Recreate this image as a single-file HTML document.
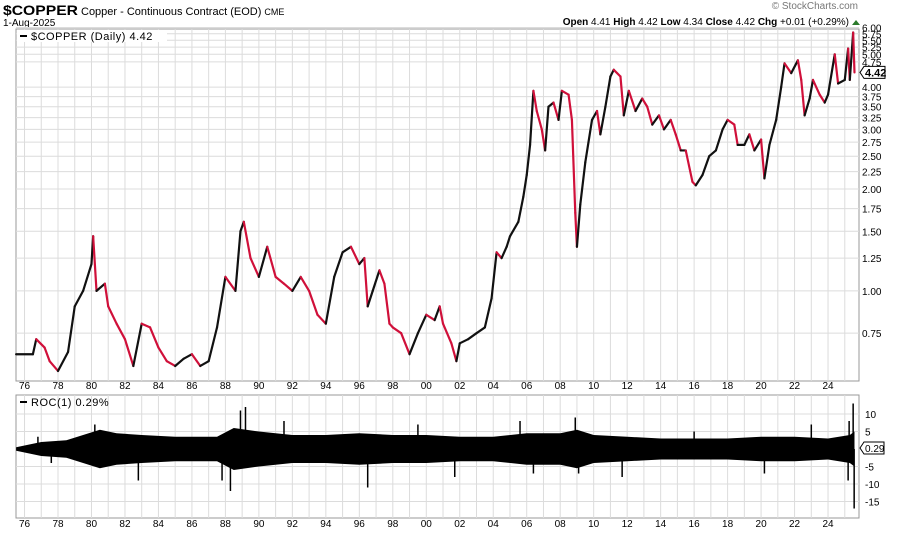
<!DOCTYPE html>
<html><head><meta charset="utf-8"><style>
body{margin:0;background:#fff;}
svg{display:block;font-family:"Liberation Sans",sans-serif;}
</style></head><body>
<svg id="c" width="900" height="534" viewBox="0 0 900 534">
<text x="3" y="15" font-size="14" font-weight="bold" textLength="75" lengthAdjust="spacingAndGlyphs">$COPPER</text>
<text x="81" y="15" font-size="11">Copper - Continuous Contract (EOD) <tspan font-size="9">CME</tspan></text>
<text x="3" y="26" font-size="10">1-Aug-2025</text>
<text x="858" y="9" font-size="10" fill="#777" text-anchor="end">© StockCharts.com</text>
<text x="849" y="25" font-size="10" text-anchor="end"><tspan font-weight="bold">Open</tspan> 4.41 <tspan font-weight="bold">High</tspan> 4.42 <tspan font-weight="bold">Low</tspan> 4.34 <tspan font-weight="bold">Close</tspan> 4.42 <tspan font-weight="bold">Chg</tspan> +0.01 (+0.29%)</text>
<path d="M852 25 L856 20 L860 25 Z" fill="#2a7a2a"/>
<g id="grid"></g>
<g id="price"></g>
<g id="roc"></g>
<g id="axes"></g>
</svg>
<script>
const years=[1975.5,1976.5,1976.7,1977.2,1977.5,1978,1978.6,1979,1979.5,1980.0,1980.1,1980.3,1980.8,1981,1981.5,1982,1982.5,1983,1983.5,1984,1984.5,1985,1985.5,1986,1986.5,1987,1987.5,1988,1988.6,1988.9,1989.1,1989.5,1990,1990.5,1991,1991.5,1992,1992.5,1993,1993.5,1994,1994.5,1995,1995.5,1996,1996.3,1996.5,1996.8,1997.2,1997.5,1997.8,1998,1998.5,1999,1999.5,2000,2000.5,2000.8,2001,2001.5,2001.8,2002,2002.5,2003,2003.5,2003.9,2004.2,2004.5,2004.8,2005,2005.5,2005.8,2006,2006.2,2006.4,2006.6,2006.9,2007.1,2007.3,2007.6,2007.9,2008.1,2008.5,2008.7,2008.9,2009.0,2009.2,2009.5,2009.9,2010.2,2010.4,2010.7,2011.0,2011.2,2011.6,2011.8,2012.1,2012.5,2012.9,2013.2,2013.5,2013.9,2014.2,2014.6,2014.9,2015.2,2015.5,2015.9,2016.1,2016.5,2016.9,2017.3,2017.7,2018.0,2018.4,2018.6,2019.0,2019.3,2019.6,2020.0,2020.2,2020.5,2020.9,2021.2,2021.4,2021.8,2022.2,2022.4,2022.6,2022.9,2023.1,2023.5,2023.8,2024.0,2024.4,2024.6,2025.0,2025.2,2025.3,2025.5,2025.58];
const prices=[0.65,0.65,0.72,0.68,0.62,0.58,0.66,0.9,1.0,1.2,1.45,1.0,1.05,0.9,0.8,0.72,0.6,0.8,0.78,0.68,0.62,0.6,0.63,0.65,0.6,0.62,0.78,1.1,1.0,1.5,1.6,1.25,1.1,1.35,1.1,1.05,1.0,1.1,1.0,0.85,0.8,1.1,1.3,1.35,1.2,1.25,0.9,1.0,1.15,1.05,0.8,0.78,0.75,0.65,0.75,0.85,0.82,0.9,0.8,0.7,0.62,0.7,0.72,0.75,0.78,0.95,1.3,1.25,1.35,1.45,1.6,1.9,2.2,2.7,3.9,3.4,3.0,2.6,3.5,3.6,3.2,3.9,3.8,3.2,1.7,1.35,1.8,2.4,3.2,3.4,2.9,3.5,4.3,4.5,4.3,3.3,3.9,3.4,3.7,3.5,3.1,3.3,3.0,3.2,2.9,2.6,2.6,2.1,2.05,2.2,2.5,2.6,3.0,3.2,3.1,2.7,2.7,2.9,2.6,2.8,2.15,2.7,3.2,4.0,4.7,4.4,4.8,4.2,3.3,3.7,4.2,3.8,3.6,3.8,5.0,4.1,4.2,5.2,4.2,5.8,4.42];
const priceTicks=[6.00,5.75,5.50,5.25,5.00,4.75,4.00,3.75,3.50,3.25,3.00,2.75,2.50,2.25,2.00,1.75,1.50,1.25,1.00,0.75];
const yearTicks=[76,78,80,82,84,86,88,90,92,94,96,98,0,2,4,6,8,10,12,14,16,18,20,22,24];
const rocYears=[1975.5,1977,1978.5,1979.5,1980.5,1981.5,1983,1985,1987.5,1988.5,1990,1992,1994,1996,1998,2000,2002,2004,2006,2008,2009,2010,2012,2014,2016,2018,2020,2022,2024,2025.3,2025.58];
const rocHigh=[0.5,2,2.5,4,5.5,4.5,4,3.5,3.5,6,5,4,4,4.5,4,4,3.5,3.5,4.5,4.5,5.5,4,3.5,3,3,3,3.5,3.5,3,4,5];
const rocLow=[-0.5,-2,-2.5,-4,-5.5,-4.5,-4,-3.5,-3.5,-6,-5,-4,-4,-4.5,-4,-4,-3.5,-3.5,-4.5,-4.5,-5.5,-4,-3.5,-3,-3,-3,-3.5,-3.5,-3,-4,-5];
const spikeYears=[1976.8,1977.6,1980.2,1982.8,1987.8,1988.3,1988.9,1989.2,1991.5,1996.5,1999.5,2001.7,2005.6,2006.4,2008.9,2009.1,2011.7,2016.0,2020.2,2023.0,2025.2,2025.26,2025.5,2025.56];
const spikeVals=[3.5,-4,7,-9,-9,-12,11,12,8,-11,7,-8,8,-7,9,-7,-8,5,-7,7,-9,8,13,-17];

const NS="http://www.w3.org/2000/svg";
const L=16,R=859,T=29,B=381,RT=395,RB=518;
const xS=y=>58+(y-1978)*16.74;
const yS=v=>189-147*Math.log(v/2);
const r0=449,rS=v=>r0-v*3.5;
function mk(p,tag,a){const e=document.createElementNS(NS,tag);for(const k in a)e.setAttribute(k,a[k]);document.getElementById(p).appendChild(e);return e;}
let e;
e=mk('grid','rect',{x:L,y:T,width:R-L,height:B-T,fill:'#fff',stroke:'#999'});


e=mk('grid','rect',{x:L,y:RT,width:R-L,height:RB-RT,fill:'#fff',stroke:'#999'});


for(let y=1976;y<=2025;y++){const x=xS(y);
 e=mk('grid','line',{x1:x,x2:x,y1:T,y2:B,stroke:'#dcdcdc'});
 
 
 e=mk('grid','line',{x1:x,x2:x,y1:RT,y2:RB,stroke:'#dcdcdc'});
 
 }
priceTicks.forEach(v=>{const y=yS(v);
 e=mk('grid','line',{x1:L,x2:R,y1:y,y2:y,stroke:'#dcdcdc'});
 
 
 e=mk('axes','text',{x:R+3,y:y+4,'font-size':10});e.textContent=v.toFixed(2);
 
 });
[10,5,-5,-10,-15].forEach(v=>{const y=rS(v);
 e=mk('grid','line',{x1:L,x2:R,y1:y,y2:y,stroke:'#dcdcdc'});
 
 
 e=mk('axes','text',{x:R+6,y:y+4,'font-size':10});e.textContent=v;
 
 });
yearTicks.forEach(t=>{const yr=t>=70?1900+t:2000+t;const x=xS(yr);const s=String(t).padStart(2,'0');
 [389,527].forEach(yy=>{e=mk('axes','text',{x:x,y:yy,'font-size':10,'text-anchor':'middle'});e.textContent=s;
 
 });});
for(let i=1;i<years.length;i++){
 const up=prices[i]>=prices[i-1];
 e=mk('price','line',{x1:xS(years[i-1]),y1:yS(prices[i-1]),x2:xS(years[i]),y2:yS(prices[i]),stroke:up?'#111':'#d0103a','stroke-width':2.2,'stroke-linecap':'round'});
 
 }
let d='M'+rocYears.map((y,i)=>xS(y)+' '+rS(rocHigh[i])).join(' L');
for(let i=rocYears.length-1;i>=0;i--)d+=' L'+xS(rocYears[i])+' '+rS(rocLow[i]);
e=mk('roc','path',{d:d+'Z',fill:'#000'});


e=mk('roc','line',{x1:L,x2:xS(rocYears[0]),y1:r0,y2:r0,stroke:'#000','stroke-width':1.5});


spikeYears.forEach((y,i)=>{e=mk('roc','line',{x1:xS(y),x2:xS(y),y1:r0,y2:rS(spikeVals[i]),stroke:'#000','stroke-width':1.5});
 
 });
e=mk('axes','rect',{x:L+1,y:T+1,width:150,height:12,fill:'#fff'});


e=mk('axes','line',{x1:20,x2:27,y1:36,y2:36,stroke:'#000','stroke-width':2});


e=mk('axes','text',{x:31,y:40,'font-size':11,'letter-spacing':'0.5'});e.textContent='$COPPER (Daily) 4.42';


e=mk('axes','line',{x1:20,x2:27,y1:402,y2:402,stroke:'#000','stroke-width':2});


e=mk('axes','text',{x:31,y:406,'font-size':11,'letter-spacing':'0.5'});e.textContent='ROC(1) 0.29%';


const ly=yS(4.42);
e=mk('axes','path',{d:`M${R+1} ${ly} L${R+5} ${ly-6} H885 V${ly+6} H${R+5} Z`,fill:'#fff',stroke:'#000'});


e=mk('axes','text',{x:R+6,y:ly+4,'font-size':11,'font-weight':'bold'});e.textContent='4.42';


const ry=rS(0.29);
e=mk('axes','path',{d:`M${R+1} ${ry} L${R+5} ${ry-6} H884 V${ry+6} H${R+5} Z`,fill:'#fff',stroke:'#000'});


e=mk('axes','text',{x:R+6,y:ry+4,'font-size':10});e.textContent='0.29';


</script>
</body></html>
